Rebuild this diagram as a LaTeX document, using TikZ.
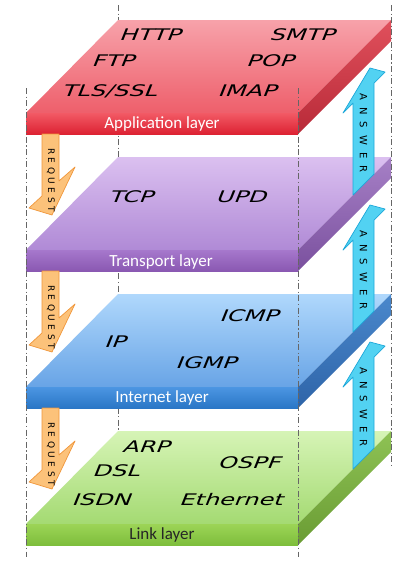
\documentclass[tikz,border=0pt]{standalone}
\usepackage{fontspec}
\setmainfont{Carlito}
\newfontfamily\protofont{DejaVu Sans}
\definecolor{appTopA}{HTML}{F7A2AA}
\definecolor{appTopB}{HTML}{EE5F6B}
\definecolor{appFrA}{HTML}{F25A65}
\definecolor{appFrB}{HTML}{DD2233}
\definecolor{appSdA}{HTML}{E0505C}
\definecolor{appSdB}{HTML}{B82A38}
\definecolor{trTopA}{HTML}{DBC0F0}
\definecolor{trTopB}{HTML}{B08AD6}
\definecolor{trFrA}{HTML}{A678CC}
\definecolor{trFrB}{HTML}{8A58B2}
\definecolor{trSdA}{HTML}{A680C6}
\definecolor{trSdB}{HTML}{7A509E}
\definecolor{inTopA}{HTML}{B0D8FC}
\definecolor{inTopB}{HTML}{68A4E6}
\definecolor{inFrA}{HTML}{4C96E2}
\definecolor{inFrB}{HTML}{2A76C6}
\definecolor{inSdA}{HTML}{4A88CC}
\definecolor{inSdB}{HTML}{2E64A8}
\definecolor{lkTopA}{HTML}{D6F4B6}
\definecolor{lkTopB}{HTML}{A4DA72}
\definecolor{lkFrA}{HTML}{9CD456}
\definecolor{lkFrB}{HTML}{7EBE3C}
\definecolor{lkSdA}{HTML}{8EC254}
\definecolor{lkSdB}{HTML}{6A9C34}
\definecolor{reqFill}{HTML}{FCC27A}
\definecolor{reqLine}{HTML}{F0963A}
\definecolor{ansFill}{HTML}{52D2F2}
\definecolor{ansLine}{HTML}{1EA8DA}
\newcommand\layerslab[7]{%
  \shade[top color=#2, bottom color=#3] (26,#1+93) -- (298,#1+93) -- (391,#1) -- (118,#1) -- cycle;
  \shade[top color=#4, bottom color=#5] (26,#1+93) rectangle (298,#1+114);
  \shade[top color=#6, bottom color=#7] (298,#1+93) -- (391,#1) -- (391,#1+21) -- (298,#1+114) -- cycle;
}
\newcommand\answerarrow[2]{%
  \draw[ans] (353,#1+175) -- (353,#1+83) -- (343,#1+93) -- (370,#1+48) -- (385,#1+52) -- (374,#1+63) -- (374,#1+154) -- cycle;
  \node[arrtxt, font=\protofont\fontsize{10}{10}\selectfont] (#2) at (363.5,#1+113) {A\kern7pt N\kern7pt S\kern7pt W\kern7pt E\kern7pt R};
}
\newcommand\requestarrow[2]{%
  \draw[req] (42,#1+114) -- (42,#1+176) -- (29,#1+188) -- (52,#1+195) -- (75,#1+147) -- (59,#1+161) -- (59,#1+114) -- cycle;
  \node[arrtxt] (#2) at (51,#1+160) {R\kern3.5pt E\kern3.5pt Q\kern3.5pt U\kern3.5pt E\kern3.5pt S\kern3.5pt T};
}
\begin{document}
\begin{tikzpicture}[x=1pt,y=-1pt,
  guide/.style={draw=black!60, line width=0.9pt, dash pattern=on 6pt off 2.5pt on 1.2pt off 2.5pt},
  proto/.style={font=\protofont\fontsize{16}{16}\selectfont, xslant=0.4, xscale=1.5, transform shape, inner sep=0},
  layerlbl/.style={font=\fontsize{17}{17}\selectfont, inner sep=0},
  req/.style={fill=reqFill, draw=reqLine, line width=0.7pt, line join=round},
  ans/.style={fill=ansFill, draw=ansLine, line width=0.7pt, line join=round},
  arrtxt/.style={font=\protofont\fontsize{9}{9}\selectfont, rotate=-90, inner sep=0}
]
\useasboundingbox (0,0) rectangle (417,565);
\fill[white] (0,0) rectangle (417,565);
% hidden back guide
\draw[guide] (118,5) -- (118,468);
% slabs
\layerslab{20}{appTopA}{appTopB}{appFrA}{appFrB}{appSdA}{appSdB}
\layerslab{157}{trTopA}{trTopB}{trFrA}{trFrB}{trSdA}{trSdB}
\layerslab{294}{inTopA}{inTopB}{inFrA}{inFrB}{inSdA}{inSdB}
\layerslab{431}{lkTopA}{lkTopB}{lkFrA}{lkFrB}{lkSdA}{lkSdB}
% visible guides
\draw[guide] (391,5) -- (391,468);
\draw[guide] (26,88) -- (26,557);
\draw[guide] (298,88) -- (298,557);
% arrows
\requestarrow{20}{req1}
\requestarrow{157}{req2}
\requestarrow{294}{req3}
\answerarrow{20}{ans1}
\answerarrow{157}{ans2}
\answerarrow{294}{ans3}
% application
\node[proto] (http) at (152,35) {HTTP};
\node[proto] (smtp) at (304,35) {SMTP};
\node[proto] (ftp) at (115,61) {FTP};
\node[proto] (pop) at (272,61) {POP};
\node[proto] (tls) at (111,91) {TLS/SSL};
\node[proto] (imap) at (249,91) {IMAP};
\node[layerlbl, text=white] (appl) at (162,124) {Application layer};
% transport
\node[proto] (tcp) at (133,197) {TCP};
\node[proto] (upd) at (243,197) {UPD};
\node[layerlbl, text=white] (trl) at (161,262) {Transport layer};
% internet
\node[proto] (icmp) at (251,316) {ICMP};
\node[proto] (ip) at (117,342) {IP};
\node[proto] (igmp) at (208,363) {IGMP};
\node[layerlbl, text=white] (inl) at (162,398) {Internet layer};
% link
\node[proto] (arp) at (148,447) {ARP};
\node[proto] (dsl) at (118,471) {DSL};
\node[proto] (ospf) at (251,463) {OSPF};
\node[proto] (isdn) at (103,500) {ISDN};
\node[proto] (eth) at (233,500) {Ethernet};
\node[layerlbl, text=black!85] (lkl) at (162,535) {Link layer};
\end{tikzpicture}
\end{document}
